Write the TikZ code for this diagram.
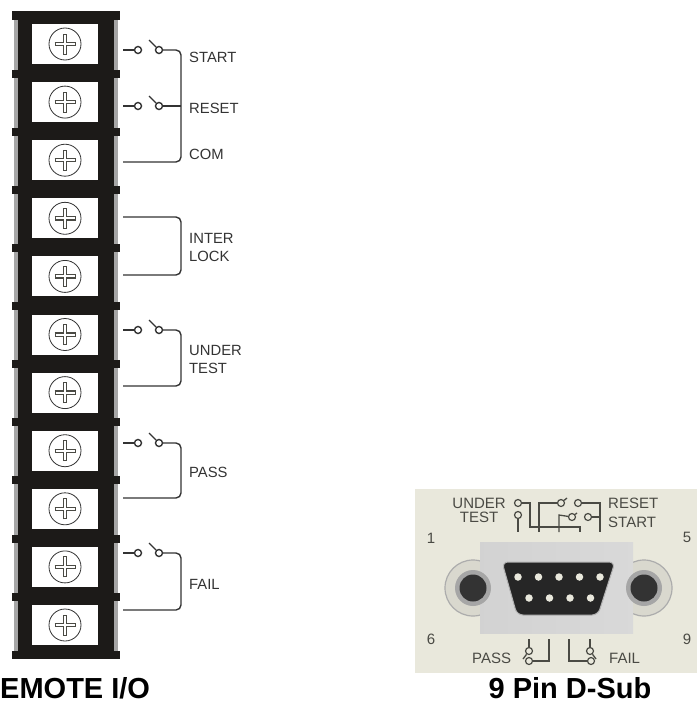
\documentclass[tikz,border=0pt]{standalone}
\usepackage{fontspec}
\setmainfont{Liberation Sans}
\usetikzlibrary{positioning}
\definecolor{panelbeige}{HTML}{E9E8DC}
\definecolor{barblack}{HTML}{1C1A18}
\definecolor{wiregrey}{HTML}{333333}
\definecolor{printgrey}{HTML}{4A4A44}
\begin{document}
\begin{tikzpicture}
  [x=1pt, y=-1pt,
  window/.style={shape=rectangle,fill=white,draw=none,inner sep=0pt,
         minimum width=66pt, minimum height=40pt},
  screw/.style={shape=circle,draw=wiregrey,fill=white,inner sep=0pt,
         minimum size=32pt,line width=0.8pt,
         path picture={
           \draw[line width=4.4pt,printgrey] (path picture bounding box.center) ++(-10.5pt,0) -- ++(21pt,0);
           \draw[line width=4.4pt,printgrey] (path picture bounding box.center) ++(0,-10.5pt) -- ++(0,21pt);
           \draw[line width=2pt,white] (path picture bounding box.center) ++(-9.5pt,0) -- ++(19pt,0);
           \draw[line width=2pt,white] (path picture bounding box.center) ++(0,-9.5pt) -- ++(0,19pt);
         }},
  contact/.style={shape=circle,draw=wiregrey,fill=white,inner sep=0pt,
         minimum size=7pt,line width=1.4pt},
  pcontact/.style={shape=circle,draw=printgrey,fill=panelbeige,inner sep=0pt,
         minimum size=7pt,line width=1.2pt},
  wire/.style={draw=wiregrey,line width=1.4pt},
  pwire/.style={draw=printgrey,line width=1.3pt},
  tag/.style={anchor=west,inner sep=0pt,font=\fontsize{14.8}{14.8}\selectfont,text=wiregrey},
  ptag/.style={inner sep=0pt,font=\fontsize{15}{15}\selectfont,text=printgrey},
  pin/.style={shape=circle,fill=panelbeige,inner sep=0pt,minimum size=7.5pt},
  caption/.style={inner sep=0pt,font=\fontsize{29}{29}\selectfont\bfseries,text=black}
  ]
  \useasboundingbox (0,0) rectangle (697,704);

  % terminal strip
  \fill[gray!70] (14,15) rectangle (118,655);
  \fill[barblack] (18,15) rectangle (114,655);
  \fill[barblack] (12,11) rectangle (120,20);
  \fill[barblack] (12,70) rectangle (120,78);
  \fill[barblack] (12,128) rectangle (120,136);
  \fill[barblack] (12,186) rectangle (120,194);
  \fill[barblack] (12,244) rectangle (120,252);
  \fill[barblack] (12,302) rectangle (120,310);
  \fill[barblack] (12,360) rectangle (120,368);
  \fill[barblack] (12,418) rectangle (120,426);
  \fill[barblack] (12,476) rectangle (120,484);
  \fill[barblack] (12,535) rectangle (120,543);
  \fill[barblack] (12,593) rectangle (120,601);
  \fill[barblack] (12,651) rectangle (120,659);
  \path
   (65,44)    node (w0) [window] {} node (s0) [screw] {}
  ++(0,58.1)  node (w1) [window] {} node (s1) [screw] {}
  ++(0,58.1)  node (w2) [window] {} node (s2) [screw] {}
  ++(0,58.1)  node (w3) [window] {} node (s3) [screw] {}
  ++(0,58.1)  node (w4) [window] {} node (s4) [screw] {}
  ++(0,58.1)  node (w5) [window] {} node (s5) [screw] {}
  ++(0,58.1)  node (w6) [window] {} node (s6) [screw] {}
  ++(0,58.1)  node (w7) [window] {} node (s7) [screw] {}
  ++(0,58.1)  node (w8) [window] {} node (s8) [screw] {}
  ++(0,58.1)  node (w9) [window] {} node (s9) [screw] {}
  ++(0,58.1)  node (w10) [window] {} node (s10) [screw] {}
  ;

  % switches
  \coordinate (lstart) at (123,50);
  \coordinate (lreset) at (123,106);
  \coordinate (lcom) at (123,162);
  \coordinate (linter) at (123,217);
  \coordinate (llock) at (123,275);
  \coordinate (lunder) at (123,330);
  \coordinate (ltest) at (123,386);
  \coordinate (lpass) at (123,443);
  \coordinate (lpassb) at (123,498);
  \coordinate (lfail) at (123,553);
  \coordinate (lfailb) at (123,610);
  \coordinate (bcom) at (181,106);
  \coordinate (binter) at (181,246);
  \coordinate (bunder) at (181,358);
  \coordinate (bpass) at (181,470);
  \coordinate (bfail) at (181,580);
  \node (c0) [contact] at (138,50) {};
  \node (d0) [contact] at (159,50) {};
  \node (c1) [contact] at (138,106) {};
  \node (d1) [contact] at (159,106) {};
  \node (c2) [contact] at (138,330) {};
  \node (d2) [contact] at (159,330) {};
  \node (c3) [contact] at (138,443) {};
  \node (d3) [contact] at (159,443) {};
  \node (c4) [contact] at (138,553) {};
  \node (d4) [contact] at (159,553) {};
  \coordinate (e0) at (149,40);
  \coordinate (e1) at (149,96);
  \coordinate (e2) at (149,320);
  \coordinate (e3) at (149,433);
  \coordinate (e4) at (149,543);

  \begin{scope}[wire]
   \draw (lstart) to (c0);
   \draw (lreset) to (c1);
   \draw (lunder) to (c2);
   \draw (lpass) to (c3);
   \draw (lfail) to (c4);
   \draw (e0) to (d0);
   \draw (e1) to (d1);
   \draw (e2) to (d2);
   \draw (e3) to (d3);
   \draw (e4) to (d4);
   \draw (d1) -- (bcom);
   \draw [rounded corners=5pt] (d0) -| (bcom) |- (lcom);
   \draw [rounded corners=5pt] (linter) -| (binter) |- (llock);
   \draw [rounded corners=5pt] (d2) -| (bunder) |- (ltest);
   \draw [rounded corners=5pt] (d3) -| (bpass) |- (lpassb);
   \draw [rounded corners=5pt] (d4) -| (bfail) |- (lfailb);
  \end{scope}

  \node (start) [tag] at (189,57) {START};
  \node (reset) [tag] at (189,108) {RESET};
  \node (com) [tag] at (189,154) {COM};
  \node (inter) [tag] at (189,238) {INTER};
  \node (lock) [tag] at (189,256) {LOCK};
  \node (under) [tag] at (189,350) {UNDER};
  \node (test) [tag] at (189,368) {TEST};
  \node (pass) [tag] at (189,472) {PASS};
  \node (fail) [tag] at (189,584) {FAIL};

  % d-sub panel
  \fill[panelbeige] (415,489) rectangle (697,673);
  \fill[panelbeige!85!gray,draw=gray!65,line width=1.2pt] (473,588) circle (28);
  \fill[panelbeige!85!gray,draw=gray!65,line width=1.2pt] (644,588) circle (28);
  \shade[left color=gray!35,middle color=white,right color=gray!30] (480,542) rectangle (633,633);
  \fill[gray!70] (473,588) circle (18);
  \fill[gray!70] (644,588) circle (18);
  \fill[black!80] (473,588) circle (13.5);
  \fill[black!80] (644,588) circle (13.5);
  \fill[black!85,draw=gray!60,line width=1pt,rounded corners=6pt] (502,562) -- (615,562) -- (598,615) -- (517,615) -- cycle;
  \path
   (518,577)  node (p1) [pin] {}
  ++(20.5,0)  node (p2) [pin] {}
  ++(20.5,0)  node (p3) [pin] {}
  ++(20.5,0)  node (p4) [pin] {}
  ++(20.5,0)  node (p5) [pin] {}
   (529,598)  node (p6) [pin] {}
  ++(20.5,0)  node (p7) [pin] {}
  ++(20.5,0)  node (p8) [pin] {}
  ++(20.5,0)  node (p9) [pin] {}
  ;

  \node (cut) [pcontact] at (518,503) {};
  \node (cus) [pcontact] at (518,515) {};
  \node (cst) [pcontact] at (561,503) {};
  \node (crs) [pcontact] at (572,517) {};
  \node (cre) [pcontact] at (578,503) {};
  \node (csr) [pcontact] at (588,517) {};
  \node (cpa) [pcontact] at (529,651) {};
  \node (cpb) [pcontact] at (529,661) {};
  \node (cfa) [pcontact] at (590,651) {};
  \node (cfb) [pcontact] at (591,661) {};
  \coordinate (n1) at (518,532);
  \coordinate (n2) at (530,527);
  \coordinate (n3) at (580,527);
  \coordinate (n4) at (580,532);
  \coordinate (n5) at (539,503);
  \coordinate (n6) at (539,532);
  \coordinate (n7) at (559,515);
  \coordinate (n8) at (559,532);
  \coordinate (n9) at (600,503);
  \coordinate (n10) at (600,532);
  \coordinate (n11) at (530,503);
  \coordinate (n12) at (600,517);
  \coordinate (n13) at (567,498);
  \coordinate (n14) at (577,513);
  \coordinate (m1) at (529,639);
  \coordinate (m2) at (549,661);
  \coordinate (m3) at (549,639);
  \coordinate (m4) at (569,639);
  \coordinate (m5) at (569,661);
  \coordinate (m6) at (590,639);
  \coordinate (m7) at (523,659);
  \coordinate (m8) at (596,659);
  \begin{scope}[pwire]
   \draw (cus) to (n1);
   \draw (cut) -- (n11) -- (n2) -- (n3) -- (n4);
   \draw (n6) -- (n5) -- (cst);
   \draw (n8) -- (n7) -- (crs);
   \draw (cre) -- (n9) -- (n10);
   \draw (csr) -- (n12);
   \draw (cst) -- (n13);
   \draw (crs) -- (n14);
   \draw (m1) -- (cpa);
   \draw (cpa) -- (m7);
   \draw (cpb) -- (m2) -- (m3);
   \draw (m4) -- (m5) -- (cfb);
   \draw (m6) -- (cfa);
   \draw (cfa) -- (m8);
  \end{scope}

  \node (punder) [ptag,anchor=east] at (506,503) {UNDER};
  \node (ptest) [ptag] at (479,517) {TEST};
  \node (preset) [ptag,anchor=west] at (608,503) {RESET};
  \node (pstart) [ptag,anchor=west] at (608,522) {START};
  \node (ppass) [ptag,anchor=west] at (472,658) {PASS};
  \node (pfail) [ptag,anchor=west] at (609,658) {FAIL};
  \node (n1a) [ptag] at (431,538) {1};
  \node (n5a) [ptag] at (687,537) {5};
  \node (n6a) [ptag] at (431,639) {6};
  \node (n9a) [ptag] at (687,639) {9};

  % captions
  \node (remote) [caption,anchor=base west] at (0,698) {EMOTE I/O};
  \node (dsub) [caption,anchor=base] at (570,698) {9 Pin D-Sub};
\end{tikzpicture}
\end{document}
